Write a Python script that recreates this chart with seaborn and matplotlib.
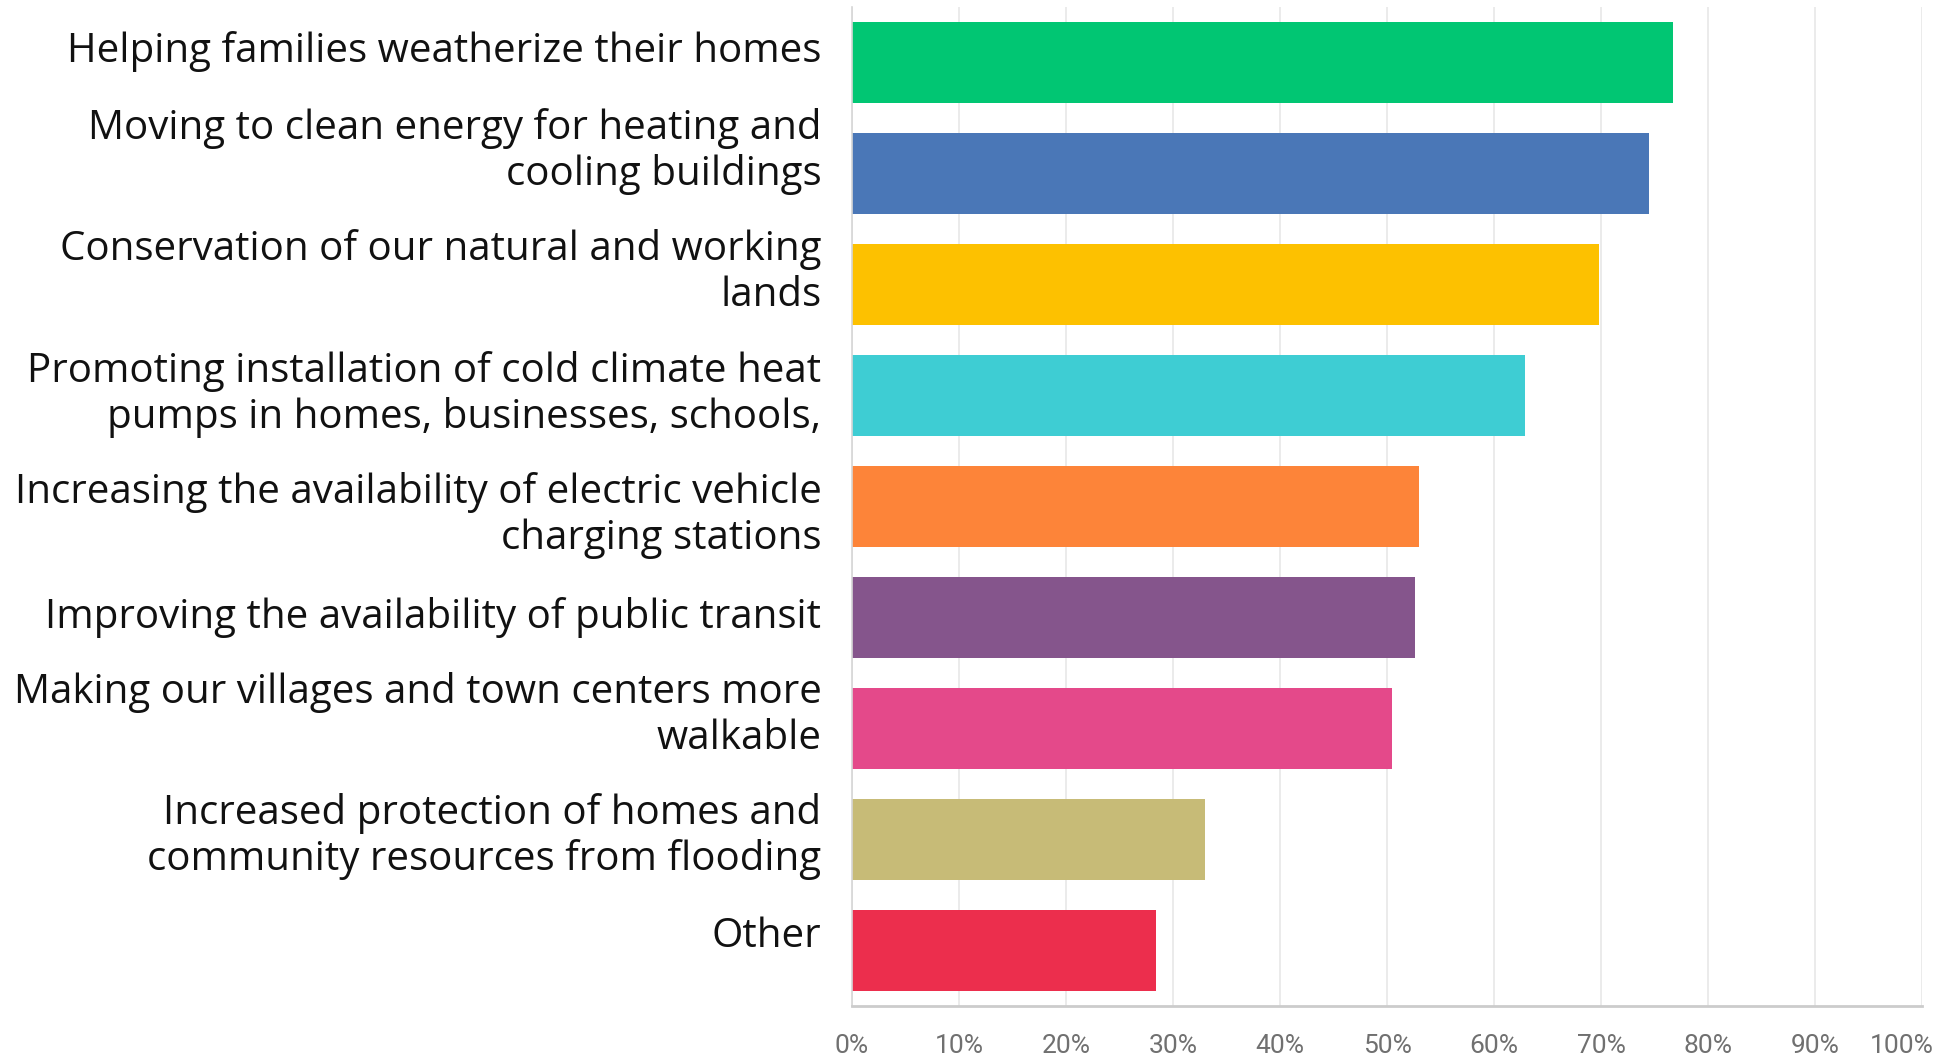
import matplotlib
matplotlib.use("Agg")
import matplotlib.pyplot as plt
import matplotlib.transforms as mtransforms
import seaborn as sns
import pandas as pd

categories = [
    "Helping families weatherize their homes",
    "Moving to clean energy for heating and\ncooling buildings",
    "Conservation of our natural and working\nlands",
    "Promoting installation of cold climate heat\npumps in homes, businesses, schools,",
    "Increasing the availability of electric vehicle\ncharging stations",
    "Improving the availability of public transit",
    "Making our villages and town centers more\nwalkable",
    "Increased protection of homes and\ncommunity resources from flooding",
    "Other",
]
shares = [76.7, 74.5, 69.8, 62.9, 53.0, 52.6, 50.5, 33.0, 28.4]
bar_colors = ["#01c673", "#4a77b7", "#fdc100", "#3ecdd3", "#fd8439",
              "#85558c", "#e4498a", "#c7bb77", "#ec2e4d"]
x_ticks = [0, 10, 20, 30, 40, 50, 60, 70, 80, 90, 100]
x_tick_labels = [f"{t}%" for t in x_ticks]

# vertical anchor of each category caption, in category units
label_rows = [-0.10, 0.80, 1.89, 2.99, 4.08, 5.00, 5.88, 6.97, 7.88]

df = pd.DataFrame({"option": categories, "share": shares})

sns.set_theme(style="white")
plt.rcParams["font.family"] = ["Open Sans", "DejaVu Sans"]

fig = plt.figure(figsize=(19.44, 10.57), dpi=100)
ax = fig.add_axes([0.4383, 0.0482, 0.5504, 0.9452])

sns.barplot(data=df, x="share", y="option", hue="option",
            palette=bar_colors, orient="h", width=0.725, legend=False,
            saturation=1, ax=ax, edgecolor="none")

ax.set_xlim(0, 100)
ax.set_ylim(8.5, -0.5)
ax.set_yticks(label_rows)
ax.set_yticklabels(categories)
ax.set_xticks(x_ticks)
ax.set_xticklabels(x_tick_labels, fontsize=19, color="#707070",
                   family=["Roboto", "DejaVu Sans"])
ax.set_xlabel("")
ax.set_ylabel("")
ax.tick_params(axis="y", length=0, pad=22, labelsize=29, labelcolor="#111111")
ax.tick_params(axis="x", length=0, pad=20)
for lbl in ax.get_yticklabels():
    lbl.set_horizontalalignment("right")
    lbl.set_verticalalignment("center")
    lbl.set_multialignment("right")
    lbl.set_linespacing(1.17)

# keep the last percentage label inside the canvas
last = ax.get_xticklabels()[-1]
last.set_transform(last.get_transform() +
                   mtransforms.ScaledTranslation(-0.2, 0, fig.dpi_scale_trans))

ax.set_axisbelow(True)
ax.grid(axis="x", color="#e8e8e8", linewidth=1.2)
ax.grid(axis="y", visible=False)
for side in ["top", "right"]:
    ax.spines[side].set_visible(False)
ax.spines["left"].set_color("#d6d6d6")
ax.spines["left"].set_linewidth(1.2)
ax.spines["bottom"].set_color("#cccccc")
ax.spines["bottom"].set_linewidth(2)

fig.savefig("out.png", dpi=100, facecolor="white")
